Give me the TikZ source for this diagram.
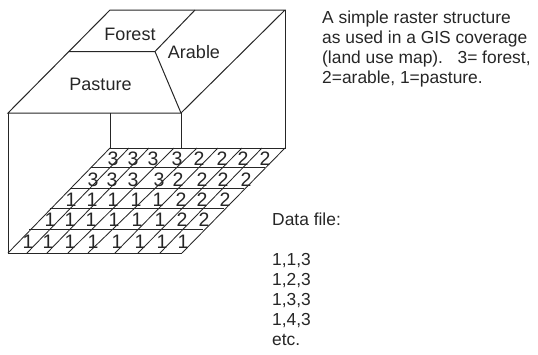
\documentclass[tikz,border=0pt]{standalone}
\usepackage{fontspec}
\setmainfont{Liberation Sans}
\tikzset{
  edge/.style={draw=black!85,line width=1pt},
  thin edge/.style={draw=black!85,line width=0.85pt},
  region/.style={font=\fontsize{18}{20}\selectfont,text=black!85,inner sep=0pt},
  cell/.style={font=\fontsize{19.5}{19.5}\selectfont,text=black!85,inner sep=0pt},
  caption/.style={font=\fontsize{17.4}{20}\selectfont,text=black!85,inner sep=0pt,align=left,anchor=north west},
}
\begin{document}
\begin{tikzpicture}[x=1pt,y=-1pt]
\useasboundingbox (0,0) rectangle (538,354);
% corners
\coordinate (tbl) at (110,10);
\coordinate (tbr) at (285,10);
\coordinate (tfr) at (181,113);
\coordinate (tfl) at (8,113);
\coordinate (gbl) at (110,148);
\coordinate (gbr) at (285,148);
\coordinate (gfr) at (182,253);
\coordinate (gfl) at (8,253);
\coordinate (fa) at (69,51.5);
\coordinate (fb) at (155,51.5);
\coordinate (fc) at (195,10);
% top surface
\draw[edge] (tbl) -- (tbr) -- (tfr) -- (tfl) -- cycle;
\draw[edge] (fa) -- (fb) -- (fc);
\draw[edge] (fb) -- (tfr);
% walls
\draw[edge] (tfl) -- (gfl) -- (gfr);
\draw[edge] (tbr) -- (gbr) -- (gbl) -- (tbl |- tfl);
\draw[edge] (tfr) -- (tfr |- gbr);
% grid
\foreach \y/\a/\b in {167.5/91/265, 188/70/244, 208/49.5/223.5, 229/29/203}
  \draw[thin edge] (\a,\y) -- (\b,\y);
\foreach \t/\b in {129/27,149/47,174/68,197/88,218/115,242/138,262/160}
  \draw[thin edge] (\t,148) -- (\b,253);
\draw[thin edge] (gbl) -- (gfl);
\draw[thin edge] (gbr) -- (gfr);
% region labels
\node[region] (forest) at (130,34) {Forest};
\node[region] (arable) at (194,52) {Arable};
\node[region] (pasture) at (100.5,84) {Pasture};
% cell values
\foreach \v/\x [count=\i] in {3/113,3/133,3/153,3/177,2/199,2/222,2/243,2/265}
  \node[cell] (a\i) at (\x,159) {\v};
\foreach \v/\x [count=\i] in {3/93,3/112,3/133,3/159,2/178,2/202,2/223,2/246}
  \node[cell] (b\i) at (\x,180) {\v};
\foreach \v/\x [count=\i] in {1/71,1/92,1/113,1/136,1/158,2/181,2/202,2/225}
  \node[cell] (c\i) at (\x,200) {\v};
\foreach \v/\x [count=\i] in {1/50,1/70,1/91,1/114,1/137,1/160,2/182,2/204}
  \node[cell] (d\i) at (\x,220) {\v};
\foreach \v/\x [count=\i] in {1/28,1/48,1/70,1/93,1/117,1/140,1/162,1/183}
  \node[cell] (e\i) at (\x,242) {\v};
% captions
\node[caption] (desc) at (322,11) {A simple raster structure\\as used in a GIS coverage\\(land use map).\ \ \ 3= forest,\\2=arable, 1=pasture.};
\node[caption] (data) at (272,213) {Data file:\\[20pt]1,1,3\\1,2,3\\1,3,3\\1,4,3\\etc.};
\end{tikzpicture}
\end{document}
